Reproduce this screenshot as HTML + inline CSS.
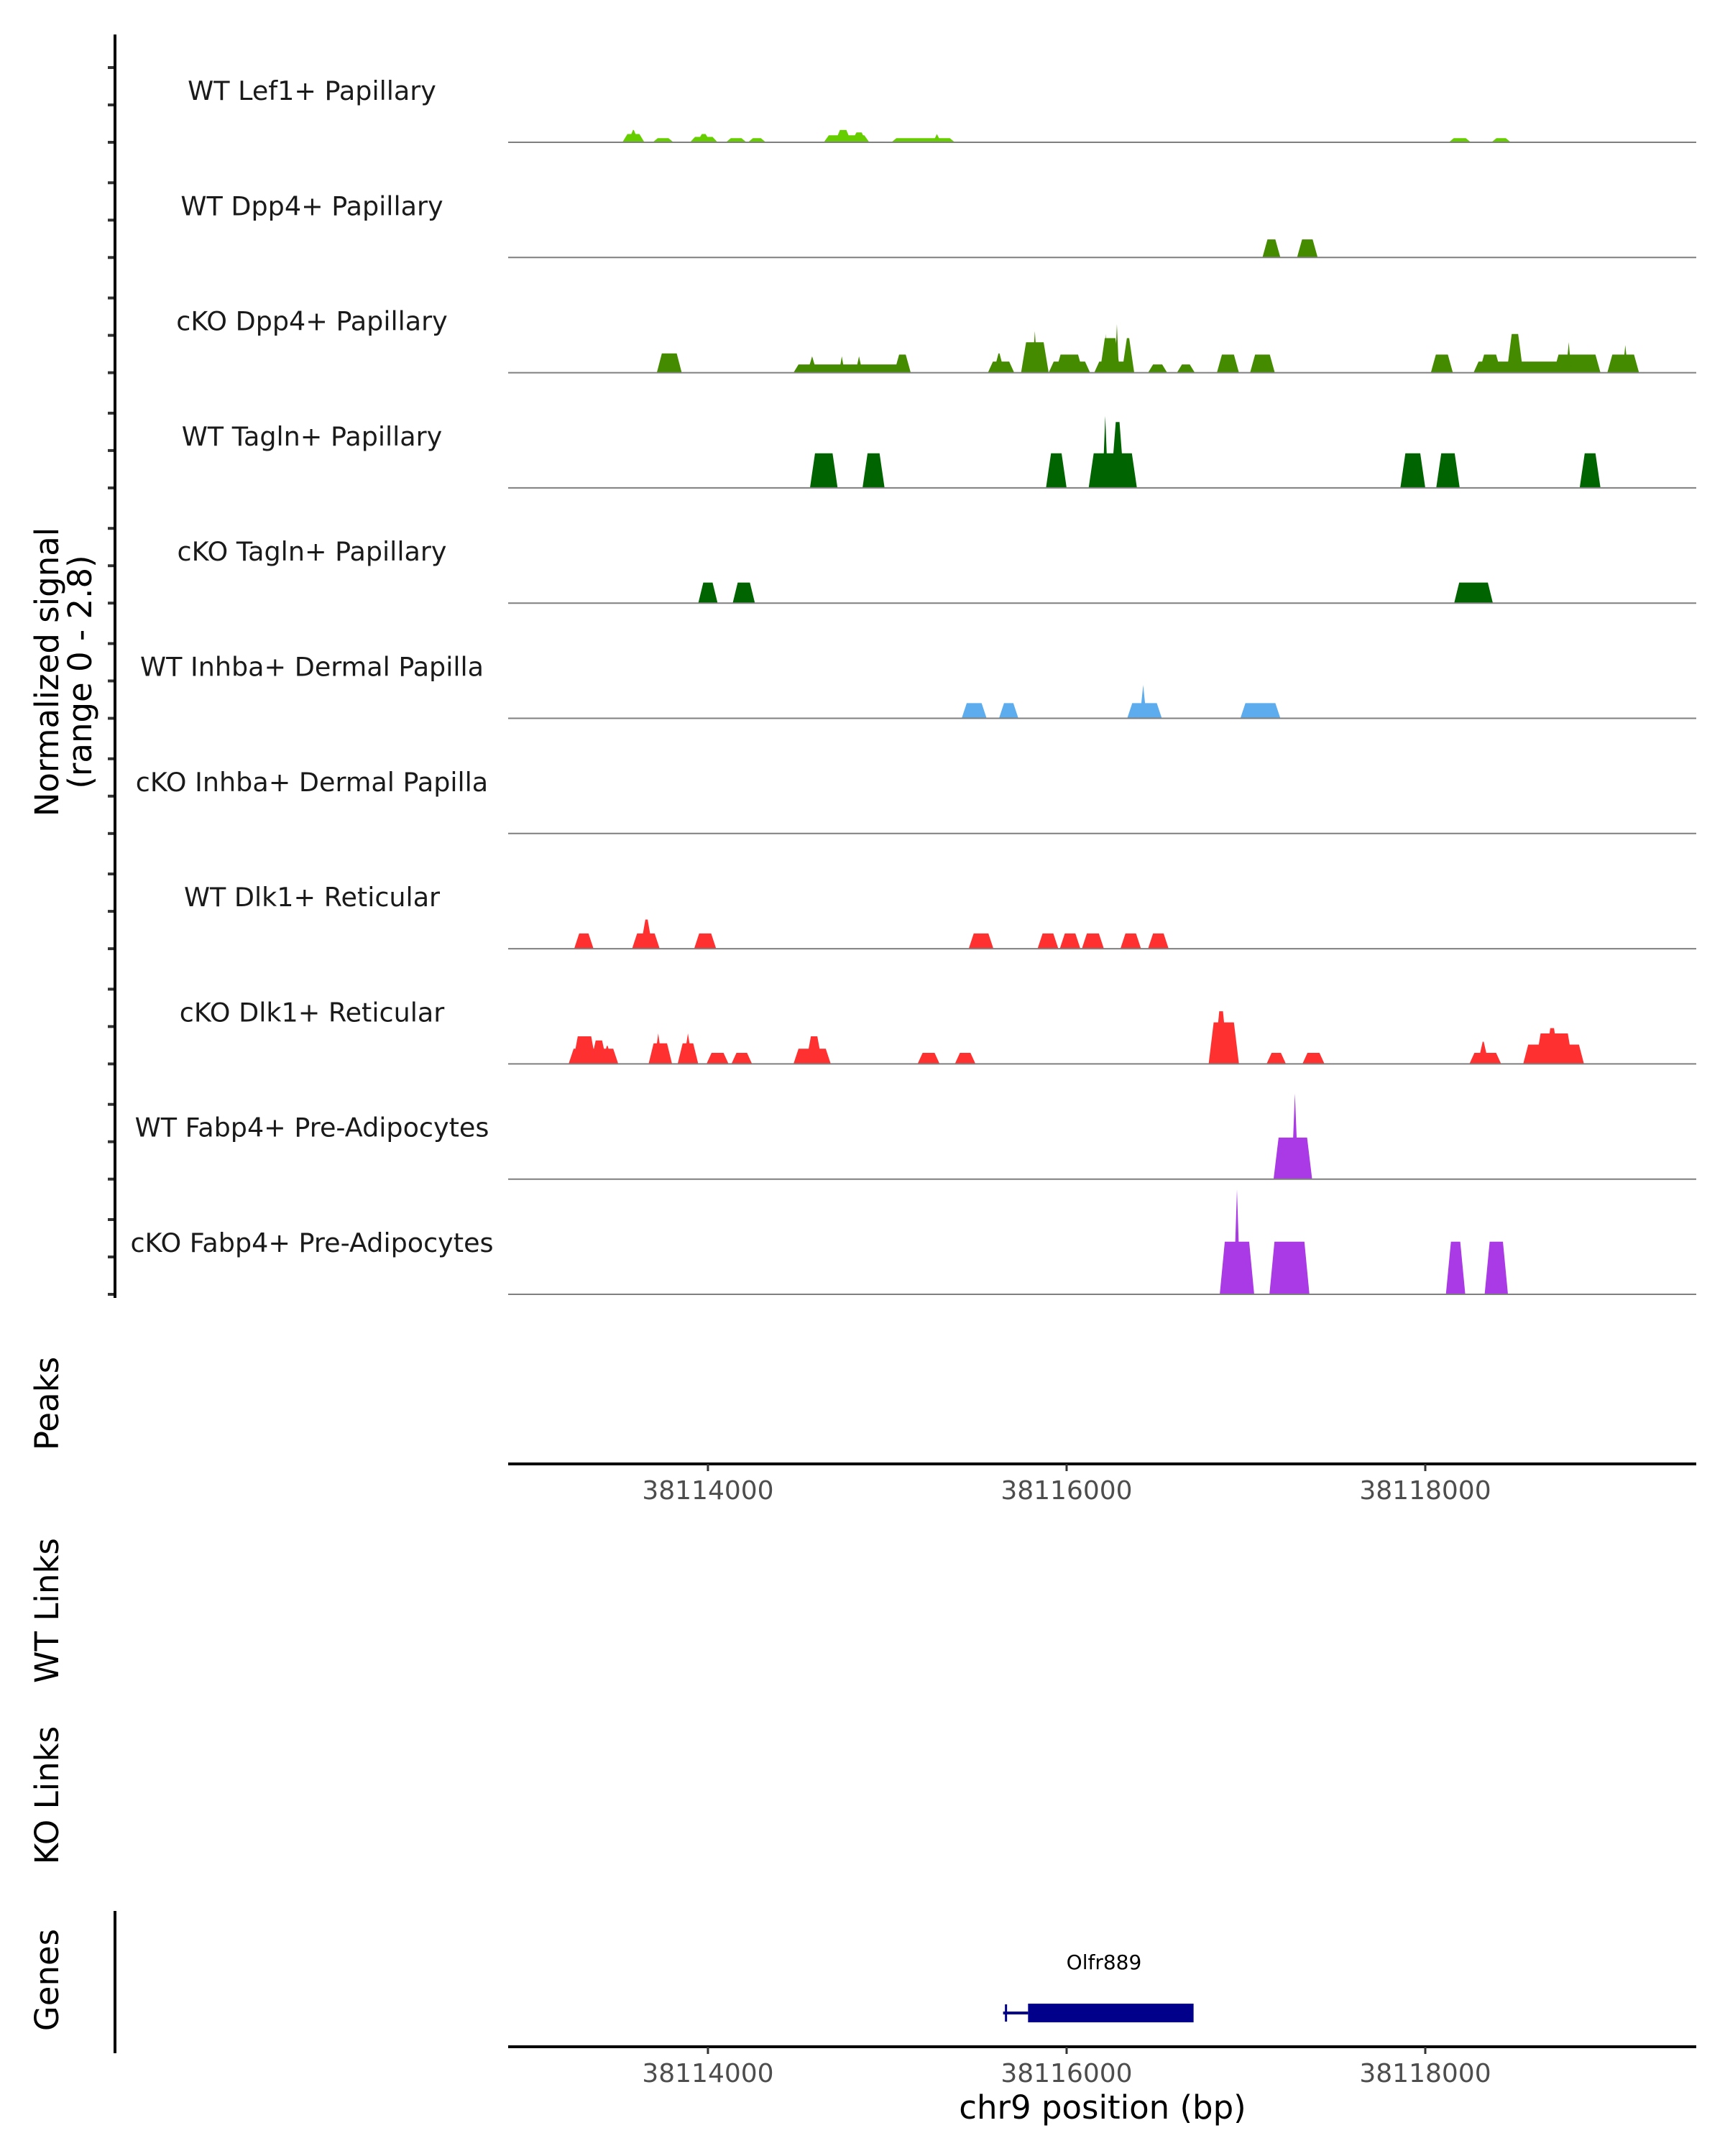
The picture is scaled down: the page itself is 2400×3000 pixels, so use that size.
<!DOCTYPE html>
<html><head><meta charset="utf-8"><style>
html,body{margin:0;padding:0;background:#fff}
svg{display:block;font-family:"DejaVu Sans","Liberation Sans",sans-serif}
</style></head><body>
<svg id="chart" width="2400" height="3000" viewBox="0 0 2400 3000" xmlns="http://www.w3.org/2000/svg">
<g id="tracks"></g>
<g id="axes"></g>
</svg>
<script>
const trackNames = ["WT Lef1+ Papillary","WT Dpp4+ Papillary","cKO Dpp4+ Papillary","WT Tagln+ Papillary","cKO Tagln+ Papillary","WT Inhba+ Dermal Papilla","cKO Inhba+ Dermal Papilla","WT Dlk1+ Reticular","cKO Dlk1+ Reticular","WT Fabp4+ Pre-Adipocytes","cKO Fabp4+ Pre-Adipocytes"];
const trackColors = ["#66CD00","#458B00","#458B00","#006400","#006400","#5CACEE","#5CACEE","#FF3030","#FF3030","#A93AE6","#A93AE6"];
const xTicks = [38114000,38116000,38118000];
const xTickLabels = ["38114000","38116000","38118000"];
const signalMax = 2.8;
// per-track segments: starts, ends, values
const starts = [
 [38113523,38113554,38113692,38113900,38113938,38114100,38114223,38114646,38114708,38114800,38115023,38115254,38118131,38118369],
 [38117092,38117285],
 [38113715,38114477,38114554,38114731,38114823,38115038,38115561,38115592,38115746,38115808,38115900,38115938,38116154,38116185,38116269,38116208,38116308,38116454,38116615,38116838,38117023,38118031,38118269,38118300,38118454,38118715,38118785,38119015,38119100],
 [38114569,38114862,38115885,38116123,38116200,38116246,38117861,38118061,38118861],
 [38113946,38114138,38118161],
 [38115415,38115623,38116338,38116408,38116969],
 [],
 [38113254,38113577,38113623,38113923,38115454,38115838,38115962,38116085,38116300,38116454],
 [38113223,38113246,38113346,38113408,38113669,38113700,38113831,38113862,38113992,38114131,38114477,38114546,38115169,38115377,38116792,38116823,38117115,38117315,38118246,38118292,38118546,38118615,38118669],
 [38117154,38117254],
 [38116854,38116931,38117131,38118115,38118331]
];
const ends = [
 [38113646,38113615,38113808,38114054,38114015,38114215,38114323,38114900,38114800,38114885,38115377,38115300,38118254,38118477],
 [38117192,38117400],
 [38113854,38115131,38114608,38114762,38114862,38115131,38115708,38115654,38115900,38115838,38116131,38116092,38116377,38116300,38116292,38116231,38116377,38116561,38116715,38116961,38117161,38118154,38118977,38118423,38118546,38118977,38118815,38119192,38119131],
 [38114723,38114985,38116000,38116392,38116231,38116323,38118000,38118192,38118977],
 [38114054,38114262,38118377],
 [38115554,38115731,38116531,38116446,38117192],
 [],
 [38113362,38113731,38113692,38114046,38115592,38115954,38116077,38116208,38116415,38116569],
 [38113500,38113377,38113438,38113469,38113800,38113746,38113946,38113915,38114115,38114246,38114685,38114638,38115292,38115492,38116961,38116900,38117223,38117438,38118423,38118354,38118885,38118823,38118746],
 [38117369,38117292],
 [38117046,38116969,38117354,38118223,38118461]
];
const values = [
 [0.20,0.30,0.10,0.13,0.20,0.10,0.10,0.17,0.30,0.24,0.10,0.20,0.10,0.10],
 [0.44,0.44],
 [0.47,0.20,0.40,0.40,0.40,0.44,0.27,0.47,0.74,1.01,0.27,0.44,0.27,0.84,1.18,0.94,0.84,0.20,0.20,0.44,0.44,0.44,0.27,0.44,0.94,0.44,0.74,0.44,0.67],
 [0.84,0.84,0.84,0.84,1.75,1.60,0.84,0.84,0.84],
 [0.50,0.50,0.50],
 [0.37,0.37,0.37,0.81,0.37],
 [],
 [0.37,0.37,0.71,0.37,0.37,0.37,0.37,0.37,0.37,0.37],
 [0.37,0.67,0.57,0.44,0.50,0.74,0.50,0.74,0.27,0.27,0.37,0.67,0.27,0.27,1.01,1.28,0.27,0.27,0.27,0.54,0.47,0.74,0.87],
 [1.01,2.08],
 [1.28,2.55,1.28,1.28,1.28]
];
const geneName = "Olfr889";
const geneStart = 38115646, geneCdsStart = 38115785, geneEnd = 38116708;

const NS="http://www.w3.org/2000/svg";
const X0=707, X1=2360, BP0=38112886, BP1=38119511;
const xs = bp => X0 + (bp-BP0)/(BP1-BP0)*(X1-X0);
const TRACK_H=160.3, FIRST_BASE=198;
const baseY = i => FIRST_BASE + i*TRACK_H;
const ys = (v,i) => baseY(i) - v/signalMax*TRACK_H;
function mk(tag, attrs, parent){const e=document.createElementNS(NS,tag);for(const k in attrs)e.setAttribute(k,attrs[k]);parent.appendChild(e);return e;}
const tg=document.getElementById('tracks'), ax=document.getElementById('axes');

trackNames.forEach((name,i)=>{
  const g=mk('g',{},tg);
  
  
  const t=mk('text',{x:434,y:baseY(i)-59,'text-anchor':'middle','font-size':36.5,fill:'#1a1a1a'},g);
  t.textContent=name;
  
  
  starts[i].forEach((s,j)=>{
    const a=xs(s), b=xs(ends[i][j]), y=ys(values[i][j],i), by=baseY(i);
    let sl=Math.min(7,(b-a)/2);
    const p=mk('polygon',{points:`${a},${by} ${a+sl},${y} ${b-sl},${y} ${b},${by}`,fill:trackColors[i]},g);
    
    
  });
  const l=mk('line',{x1:X0,x2:X1,y1:baseY(i),y2:baseY(i),stroke:'#7f7f7f','stroke-width':2},g);
  
  
  for(let k=0;k<3;k++){
    const tk=mk('line',{x1:150,x2:160,y1:baseY(i)-k*52,y2:baseY(i)-k*52,stroke:'#333','stroke-width':4},ax);
    
    
  }
});
const yl=mk('line',{x1:160,x2:160,y1:48,y2:1806,stroke:'#000','stroke-width':4},ax);



function xAxis(y,name){
  const g=mk('g',{},ax);
  
  
  mk('line',{x1:X0,x2:X1,y1:y,y2:y,stroke:'#000','stroke-width':4},g);
  xTicks.forEach((v,k)=>{
    mk('line',{x1:xs(v),x2:xs(v),y1:y,y2:y+10,stroke:'#333','stroke-width':3},g);
    const t=mk('text',{x:xs(v),y:y+49,'text-anchor':'middle','font-size':36,fill:'#4d4d4d'},g);
    t.textContent=xTickLabels[k];
    
    
  });
}
xAxis(2037,'peaks-x-axis');
xAxis(2848,'genes-x-axis');

function vlabel(txt,x,y,name,fs){
  const t=mk('text',{x:x,y:y,'text-anchor':'middle','font-size':fs||45,fill:'#000',transform:`rotate(-90 ${x} ${y})`},ax);
  t.textContent=txt;
  
  
}
vlabel('Normalized signal',81,935,'y-axis-title');
vlabel('(range 0 - 2.8)',127,935,'y-axis-subtitle');
vlabel('Peaks',81,1953,'peaks-label');
vlabel('WT Links',81,2241,'wt-links-label');
vlabel('KO Links',81,2498,'ko-links-label');
vlabel('Genes',81,2755,'genes-label');
const gl=mk('line',{x1:160,x2:160,y1:2659,y2:2857,stroke:'#000','stroke-width':4},ax);



const xt=mk('text',{x:1534,y:2948,'text-anchor':'middle','font-size':45,fill:'#000'},ax);
xt.textContent='chr9 position (bp)';



const gg=mk('g',{},ax);


mk('line',{x1:xs(geneStart),x2:xs(geneCdsStart),y1:2801,y2:2801,stroke:'#00008B','stroke-width':4},gg);
mk('line',{x1:xs(geneStart)+4,x2:xs(geneStart)+4,y1:2789,y2:2813,stroke:'#00008B','stroke-width':3},gg);
mk('rect',{x:xs(geneCdsStart),y:2788,width:xs(geneEnd)-xs(geneCdsStart),height:26,fill:'#00008B'},gg);
const gt=mk('text',{x:1536,y:2740,'text-anchor':'middle','font-size':28,fill:'#000'},gg);
gt.textContent=geneName;


</script>
</body></html>
